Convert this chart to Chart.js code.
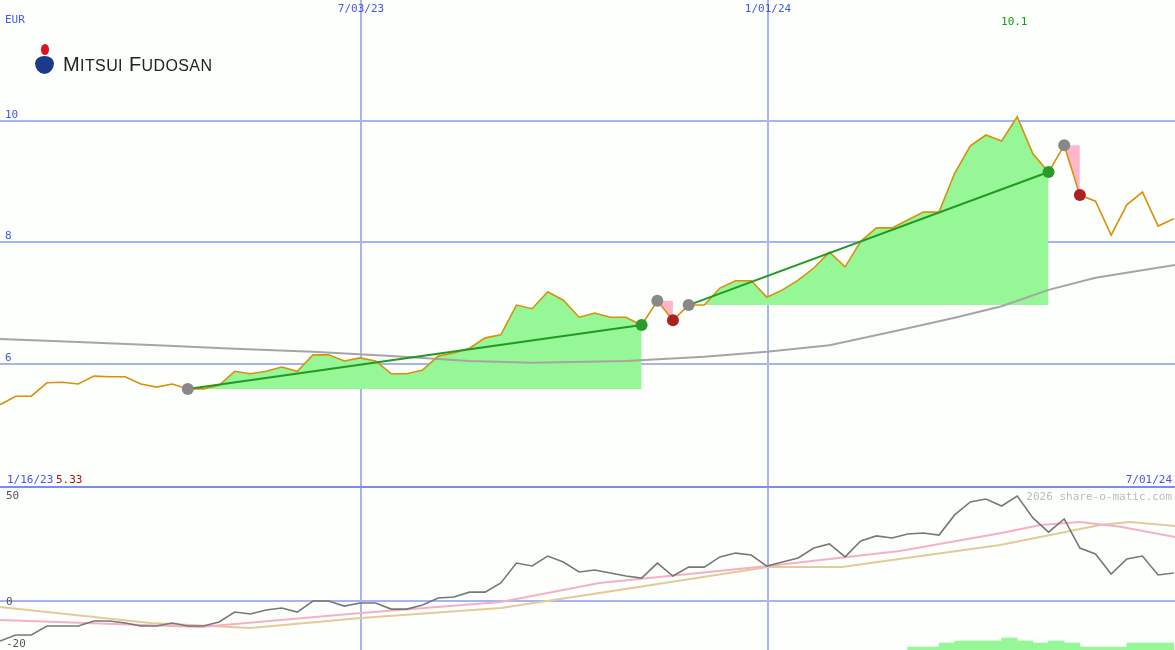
<!DOCTYPE html>
<html>
<head>
<meta charset="utf-8">
<script src="https://cdn.jsdelivr.net/npm/chart.js@4"></script>
<style>
  body { margin: 0; background: #fdfffd; width: 1175px; height: 650px; overflow: hidden; position: relative; }
  canvas { position: absolute; left: 0; }
  #top { top: 0; }
  #bottom { top: 487px; }
  #sep { position: absolute; left: 0; top: 486px; width: 1175px; height: 2px; background: #7b8cf0; }
  .logo { position: absolute; left: 34px; top: 44px; font-family: "Liberation Sans", sans-serif; color: #222; }
  .logo .name { position: absolute; left: 29px; top: 9px; font-size: 20px; white-space: nowrap; letter-spacing: 0.4px; }
  .logo .name small { font-size: 16px; }
  .logo .blue { position: absolute; left: 1px; top: 12px; width: 19px; height: 18px; border-radius: 50% 50% 50% 50% / 40% 40% 60% 60%; background: #1c3a8c; }
  .logo .red { position: absolute; left: 7px; top: 0; width: 8px; height: 11px; border-radius: 50%; background: #e01020; }
</style>
</head>
<body>
<canvas id="top" width="1175" height="487"></canvas>
<canvas id="bottom" width="1175" height="163"></canvas>
<div id="sep"></div>
<div class="logo"><div class="red"></div><div class="blue"></div>
  <div class="name">M<small>ITSUI</small> F<small>UDOSAN</small></div></div>
<script>
// weekly closes, week 0 = 1/16/23 area
const price = [5.33, 5.47, 5.47, 5.69, 5.70, 5.67, 5.80, 5.79, 5.79, 5.67,
  5.62, 5.67, 5.59, 5.59, 5.65, 5.88, 5.84, 5.88, 5.95, 5.88,
  6.15, 6.15, 6.05, 6.10, 6.05, 5.84, 5.84, 5.90, 6.13, 6.18,
  6.26, 6.43, 6.48, 6.97, 6.91, 7.19, 7.05, 6.77, 6.84, 6.77,
  6.77, 6.64, 7.04, 6.72, 6.97, 6.97, 7.25, 7.37, 7.37, 7.10,
  7.22, 7.38, 7.58, 7.84, 7.60, 8.02, 8.24, 8.24, 8.37, 8.50,
  8.50, 9.14, 9.59, 9.77, 9.67, 10.07, 9.46, 9.16, 9.60, 8.78,
  8.68, 8.12, 8.62, 8.83, 8.27, 8.39];
const priceMA = [[0, 6.41], [5, 6.36], [10, 6.31], [15, 6.25], [20, 6.20], [25, 6.13], [30, 6.05],
  [34, 6.02], [40, 6.05], [45, 6.12], [49, 6.20], [53, 6.31], [57, 6.53], [61, 6.76],
  [64, 6.95], [67, 7.22], [70, 7.42], [75.08, 7.63]];
const osc = [-18.9, -16.0, -16.0, -11.8, -11.8, -11.8, -9.4, -9.4, -10.4, -11.8,
  -11.8, -10.4, -11.8, -11.8, -9.9, -5.2, -6.1, -4.2, -3.3, -5.2,
  0, 0, -2.4, -0.9, -0.9, -3.8, -3.8, -1.9, 1.4, 1.9,
  4.2, 4.2, 8.5, 17.9, 16.5, 21.2, 18.4, 13.7, 14.6, 13.2,
  11.8, 10.8, 17.9, 11.8, 16.0, 16.0, 20.8, 22.6, 21.7, 16.5,
  18.4, 20.3, 25.0, 26.9, 20.8, 28.3, 30.7, 29.7, 31.6, 32.1,
  31.1, 40.6, 46.7, 48.1, 44.8, 49.5, 39.2, 32.5, 38.7, 25.0,
  22.2, 12.7, 19.8, 21.2, 12.3, 13.2];
const oscFast = [[0, -9], [12.8, -12.3], [23.07, -5.7], [32, -0.5], [38.3, 8.5], [49.07, 16.5],
  [57.5, 23.6], [63.9, 32], [66.5, 35.8], [69, 37.3], [71.6, 35], [75.08, 30.2]];
const oscSlow = [[0, -2.8], [9.6, -10.4], [16, -12.7], [23.07, -8], [32, -3.3], [38.3, 3.8],
  [49.07, 16], [53.8, 16], [63.9, 26.4], [70.3, 35.8], [72.2, 37.3], [75.08, 35.4]];
const volStart = 58;
const volume = [3, 3, 7, 9, 9, 9, 12, 9, 7, 9, 7, 3, 3, 3, 7, 7, 7];
// trend runs: start week, end week
const trends = [[12, 41], [44, 67]];
const drops = [[42, 43], [68, 69]];
const dateTicks = [23.07, 49.07];
const dateLabels = ['7/03/23', '1/01/24'];
const priceTicks = [6, 8, 10];
const oscTicks = [0];
const oscLabels = [[50, '50'], [0, '0'], [-20, '-20']];

const pts = (a, b) => price.slice(a, b + 1).map((v, k) => ({ x: a + k, y: v }));
const mono = '11px "DejaVu Sans Mono", monospace';
const GRID = '#a8b4f0';

const makeX = () => ({
  type: 'linear', min: 0, max: 75.08, offset: false,
  afterBuildTicks: s => { s.ticks = dateTicks.map(v => ({ value: v })); },
  ticks: { display: false }, border: { display: false },
  grid: { color: GRID, lineWidth: 2, drawTicks: false, offset: false }
});

const baseOptions = () => ({
  responsive: false, animation: false, devicePixelRatio: 1,
  layout: { padding: 0, autoPadding: false },
  elements: { point: { radius: 0, hoverRadius: 0 }, line: { tension: 0 } },
  plugins: { legend: { display: false }, tooltip: { enabled: false } }
});

const topData = [];
topData.push({ data: price.map((v, i) => ({ x: i, y: v })), borderColor: '#d9900e', borderWidth: 1.6, order: 5 });
topData.push({ data: priceMA.map(p => ({ x: p[0], y: p[1] })), borderColor: '#a5a5a5', borderWidth: 2, order: 8 });
trends.forEach(t => {
  topData.push({ data: pts(t[0], t[1]), borderWidth: 0, fill: { value: price[t[0]] }, backgroundColor: '#95f795', order: 10 });
  topData.push({ data: [{ x: t[0], y: price[t[0]] }, { x: t[1], y: price[t[1]] }], borderColor: '#229922', borderWidth: 2, order: 4 });
  topData.push({ data: [{ x: t[0], y: price[t[0]] }], showLine: false, pointRadius: 6, pointBackgroundColor: '#888', pointBorderWidth: 0, order: 1 });
  topData.push({ data: [{ x: t[1], y: price[t[1]] }], showLine: false, pointRadius: 6, pointBackgroundColor: '#2a9a2a', pointBorderWidth: 0, order: 1 });
});
drops.forEach(d => {
  topData.push({ data: pts(d[0], d[1]), borderWidth: 0, fill: { value: price[d[0]] }, backgroundColor: '#ffb6c8', order: 10 });
  topData.push({ data: [{ x: d[0], y: price[d[0]] }], showLine: false, pointRadius: 6, pointBackgroundColor: '#888', pointBorderWidth: 0, order: 1 });
  topData.push({ data: [{ x: d[1], y: price[d[1]] }], showLine: false, pointRadius: 6, pointBackgroundColor: '#aa2222', pointBorderWidth: 0, order: 1 });
});

const topLabels = {
  id: 'topLabels',
  afterDraw(c) {
    const ctx = c.ctx, x = c.scales.x, y = c.scales.y;
    ctx.save();
    ctx.font = mono; ctx.textBaseline = 'alphabetic';
    ctx.fillStyle = '#4455ee';
    ctx.textAlign = 'left';
    ctx.fillText('EUR', 5, 23);
    priceTicks.forEach(v => ctx.fillText(String(v), 5, y.getPixelForValue(v) - 3));
    ctx.textAlign = 'center';
    dateTicks.forEach((v, i) => ctx.fillText(dateLabels[i], x.getPixelForValue(v), 12));
    const hi = Math.max(...price);
    ctx.fillStyle = '#119911';
    ctx.fillText(hi.toFixed(1), x.getPixelForValue(price.indexOf(hi)) - 3, 25);
    ctx.fillStyle = '#4455ee'; ctx.textAlign = 'left';
    ctx.fillText('1/16/23', 7, 483);
    ctx.fillStyle = '#aa1111';
    ctx.fillText(price[0].toFixed(2), 56, 483);
    ctx.fillStyle = '#4455ee'; ctx.textAlign = 'right';
    ctx.fillText('7/01/24', 1172, 483);
    ctx.restore();
  }
};

const topOpts = baseOptions();
topOpts.scales = {
  x: makeX(),
  y: {
    min: 3.975, max: 11.992,
    afterBuildTicks: s => { s.ticks = priceTicks.map(v => ({ value: v })); },
    ticks: { display: false }, border: { display: false },
    grid: { color: GRID, lineWidth: 2, drawTicks: false }
  }
};
new Chart(document.getElementById('top'), {
  type: 'line', data: { datasets: topData }, options: topOpts, plugins: [topLabels]
});

const bottomLabels = {
  id: 'bottomLabels',
  afterDraw(c) {
    const ctx = c.ctx, y = c.scales.y;
    ctx.save();
    ctx.font = mono; ctx.fillStyle = '#555'; ctx.textAlign = 'left';
    oscLabels.forEach(l => ctx.fillText(l[1], 6, y.getPixelForValue(l[0]) + 4));
    ctx.fillStyle = '#bbbbbb'; ctx.textAlign = 'right';
    ctx.fillText('2026 share-o-matic.com', 1172, 13);
    ctx.restore();
  }
};

const botOpts = baseOptions();
botOpts.scales = {
  x: makeX(),
  y: {
    min: -23.1, max: 53.77,
    afterBuildTicks: s => { s.ticks = oscTicks.map(v => ({ value: v })); },
    ticks: { display: false }, border: { display: false },
    grid: { color: GRID, lineWidth: 2, drawTicks: false }
  },
  yv: { display: false, min: 0, max: 163 }
};
new Chart(document.getElementById('bottom'), {
  type: 'line',
  data: {
    datasets: [
      { data: osc.map((v, i) => ({ x: i, y: v })), borderColor: '#777', borderWidth: 1.6, order: 1 },
      { data: oscFast.map(p => ({ x: p[0], y: p[1] })), borderColor: '#f6b0c6', borderWidth: 2, order: 2 },
      { data: oscSlow.map(p => ({ x: p[0], y: p[1] })), borderColor: '#e2cb98', borderWidth: 2, order: 3 },
      { type: 'bar', data: volume.map((v, k) => ({ x: volStart + k + 0.5, y: v })), yAxisID: 'yv',
        backgroundColor: '#95f795', barPercentage: 1, categoryPercentage: 1, order: 4 }
    ]
  },
  options: botOpts,
  plugins: [bottomLabels]
});
</script>
</body>
</html>
